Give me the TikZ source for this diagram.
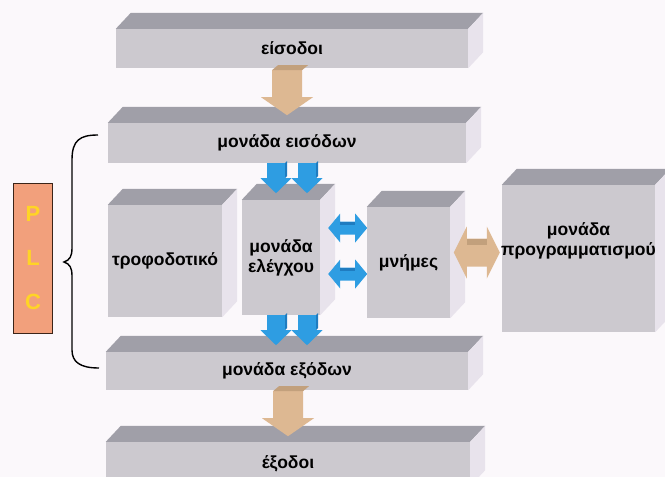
\documentclass[tikz,border=0pt]{standalone}
\usepackage{fontspec}
\setmainfont{Liberation Sans}
\usetikzlibrary{calc}

\definecolor{bgcol}{HTML}{FBF8FB}
\definecolor{frontcol}{HTML}{CCC9CF}
\definecolor{topcol}{HTML}{A09FA8}
\definecolor{sidecol}{HTML}{E8E3EC}
\definecolor{tancol}{HTML}{DDB892}
\definecolor{tandark}{HTML}{C2A07C}
\definecolor{bluecol}{HTML}{2E9DE2}
\definecolor{bluedark}{HTML}{1F7CC0}
\definecolor{plccol}{HTML}{F2A07C}
\definecolor{plcborder}{HTML}{3B2418}
\definecolor{plcyellow}{HTML}{FFD426}

% top and right faces of a slab, from its front node
\newcommand{\slabfaces}[1]{%
  \fill[topcol] (#1.north west) -- ++(\depthx,-\depthy) -- ($(#1.north east)+(\depthx,-\depthy)$) -- (#1.north east) -- cycle;
  \fill[sidecol] (#1.north east) -- ++(\depthx,-\depthy) -- ($(#1.south east)+(\depthx,-\depthy)$) -- (#1.south east) -- cycle;}

\begin{document}
\begin{tikzpicture}[x=1pt,y=-1pt,
    lbl/.style={font=\fontsize{17.5}{20}\selectfont\bfseries, text=black},
    front/.style={fill=frontcol, inner sep=0pt, align=center, lbl},
    tanarrow/.style={fill=tancol},
    bluearrow/.style={fill=bluecol}]
        %
        \def\depthx{15}
        \def\depthy{16}

        \fill[bgcol] (0,0) rectangle (665,477);
        \useasboundingbox (0,0) rectangle (665,477);
        \clip (0,0) rectangle (665,477);

        %
        \node[front, minimum width=352pt, minimum height=39pt] (in) at (292,48.5) {είσοδοι};
        \node[front, minimum width=358pt, minimum height=40pt] (inunit) at (287,143) {μονάδα εισόδων};
        \node[front, minimum width=114pt, minimum height=112pt] (psu) at (165,261) {τροφοδοτικό};
        \node[front, minimum width=78pt, minimum height=115pt] (cpu) at (281,257.5) {μονάδα\\ελέγχου};
        \node[front, minimum width=83pt, minimum height=111pt] (mem) at (408.5,262.5) {μνήμες};
        \node[front, minimum width=153pt, minimum height=147pt,
              label={[name=progtext, align=center, lbl, yshift=18pt]center:μονάδα\\προγραμματισμού}] (prog) at (578.5,258.5) {};
        \node[front, minimum width=362pt, minimum height=38pt] (outunit) at (287,371) {μονάδα εξόδων};
        \node[front, minimum width=364pt, minimum height=44pt] (out) at (288,464) {έξοδοι};

        \slabfaces{in}
        \slabfaces{inunit}
        \slabfaces{psu}
        \slabfaces{cpu}
        \slabfaces{mem}
        \slabfaces{prog}
        \slabfaces{outunit}
        \slabfaces{out}

        %
        \coordinate (t1) at ($(in.south -| inunit.north)+(0,2)$);
        \fill[tanarrow] (t1) ++(-15,0) -- ++(30,0) -- ++(0,27) -- ++(11,0) -- ++(-26,18) -- ++(-26,-18) -- ++(11,0) -- cycle;
        \fill[tandark] (t1) ++(-15,0) -- ++(30,0) -- ++(6,-5) -- ++(-30,0) -- cycle;

        \coordinate (t2) at ($(outunit.south)+(1,1)$);
        \fill[tanarrow] (t2) ++(-15,0) -- ++(30,0) -- ++(0,27) -- ++(11,0) -- ++(-26,18) -- ++(-26,-18) -- ++(11,0) -- cycle;
        \fill[tandark] (t2) ++(-15,0) -- ++(30,0) -- ++(6,-5) -- ++(-30,0) -- cycle;

        %
        \foreach \off in {-5,26} {
            \coordinate (b1) at ($(inunit.south -| cpu.north)+(\off,0)$);
            \fill[bluearrow] (b1) ++(-9,0) -- ++(18,0) -- ++(0,15) -- ++(6.5,0) -- ++(-15.5,15) -- ++(-15.5,-15) -- ++(6.5,0) -- cycle;
            \fill[bluedark] (b1) ++(9,0) -- ++(2,-2) -- ++(0,15) -- ++(-2,2) -- cycle;
            \coordinate (b2) at ($(cpu.south)+(\off,0)$);
            \fill[bluearrow] (b2) ++(-9,0) -- ++(18,0) -- ++(0,15) -- ++(6.5,0) -- ++(-15.5,15) -- ++(-15.5,-15) -- ++(6.5,0) -- cycle;
            \fill[bluedark] (b2) ++(9,0) -- ++(2,-2) -- ++(0,15) -- ++(-2,2) -- cycle;
        }

        \foreach \yy in {-29.5,16.5} {
            \coordinate (h) at ($(cpu.east)+(8,\yy)$);
            \fill[bluearrow] (h) -- ++(12,-14.5) -- ++(0,8) -- ++(15,0) -- ++(0,-8) -- ++(12,14.5)
                -- ++(-12,14.5) -- ++(0,-8) -- ++(-15,0) -- ++(0,8) -- cycle;
            \fill[bluedark] ($(h)+(12,-6.5)$) -- ++(15,0) -- ++(0,3) -- ++(-15,0) -- cycle;
        }

        \coordinate (d) at ($(prog.west)+(-48,-6)$);
        \fill[tanarrow] (d) -- ++(13,-26) -- ++(0,12) -- ++(20,0) -- ++(0,-12) -- ++(13,26)
            -- ++(-13,26) -- ++(0,-12) -- ++(-20,0) -- ++(0,12) -- cycle;
        \fill[tandark] ($(d)+(13,-14)$) -- ++(20,0) -- ++(0,6) -- ++(-20,0) -- cycle;

        %
        \node[draw=plcborder, fill=plccol, line width=1.5pt, minimum width=39pt, minimum height=150pt,
              align=center, text=plcyellow, font=\fontsize{22}{44}\selectfont\bfseries] (plc) at (33,258.5) {P\\L\\C};

        \draw[line width=1.4pt] (98,135) .. controls (80,135) and (72,140) .. (72,160) -- (72,248)
            .. controls (72,256) and (70,260) .. (64,262) .. controls (70,264) and (72,268) .. (72,276)
            -- (72,350) .. controls (72,362) and (80,368) .. (99,368);
    \end{tikzpicture}
\end{document}
